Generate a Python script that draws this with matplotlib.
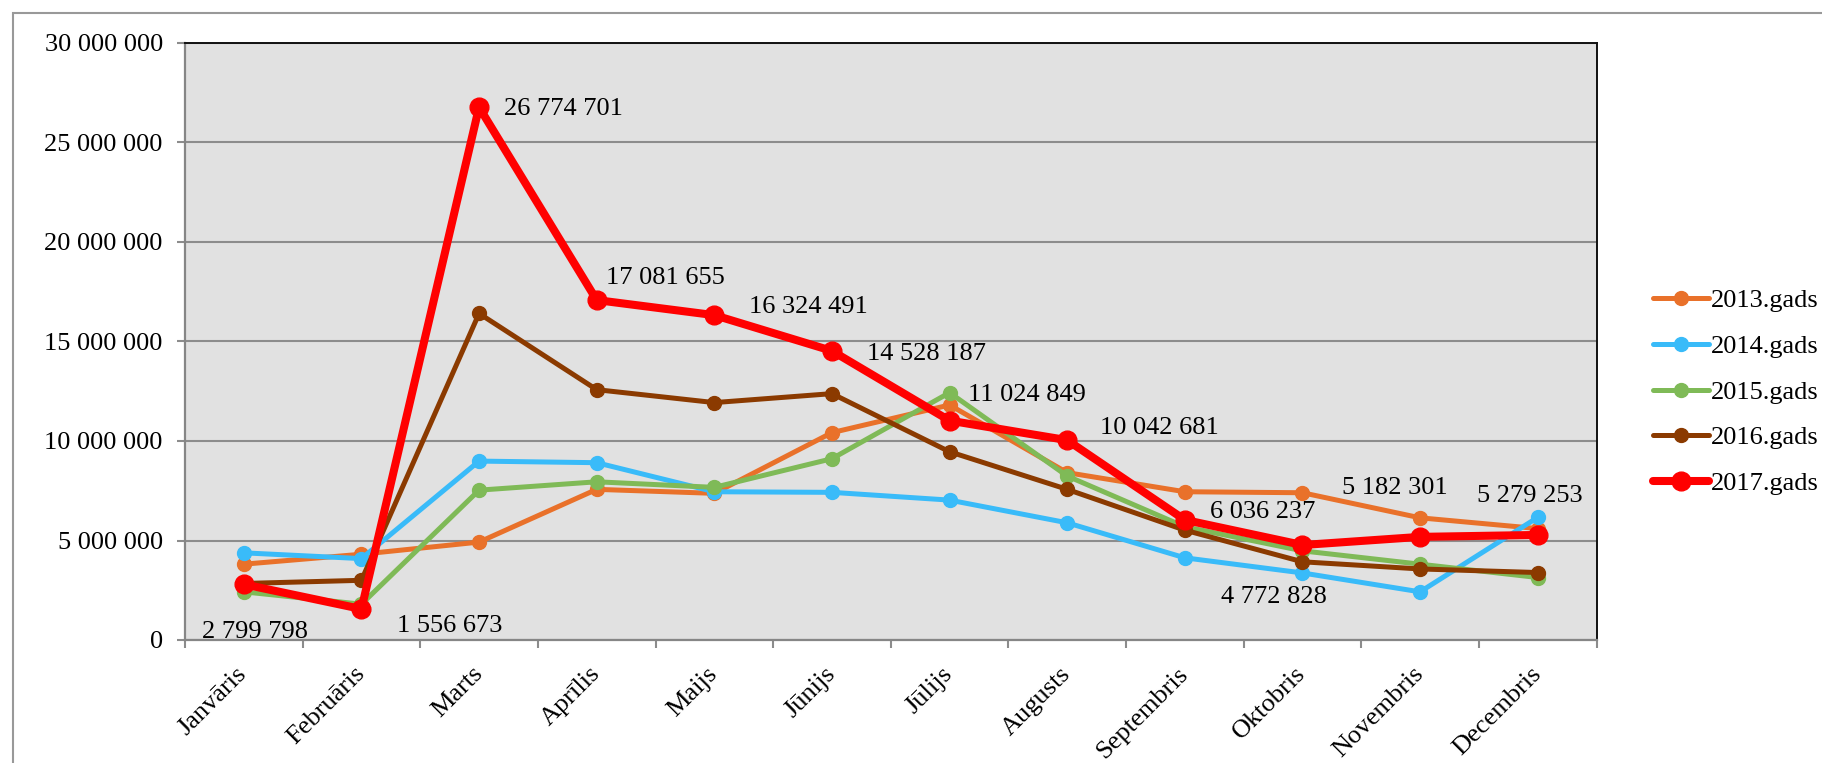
# -*- coding: utf-8 -*-
"""
plot.py
月別の推移（2013〜2017年）を折れ線グラフで表示する
"""

# モジュールのインポート
import matplotlib
matplotlib.use("Agg")
import matplotlib.pyplot as plt
from matplotlib.patches import Rectangle
from matplotlib.ticker import FuncFormatter, MultipleLocator
import numpy as np

plt.rcParams['font.family'] = ['Liberation Serif', 'DejaVu Serif']

# データ
months = ['Janvāris', 'Februāris', 'Marts', 'Aprīlis', 'Maijs', 'Jūnijs',
          'Jūlijs', 'Augusts', 'Septembris', 'Oktobris', 'Novembris', 'Decembris']
v2013 = [3810000, 4310000, 4920000, 7570000, 7370000, 10420000,
         11810000, 8410000, 7450000, 7400000, 6140000, 5600000]
v2014 = [4380000, 4090000, 8990000, 8910000, 7450000, 7420000,
         7030000, 5890000, 4130000, 3370000, 2420000, 6160000]
v2015 = [2420000, 1800000, 7530000, 7950000, 7670000, 9110000,
         12430000, 8240000, 5690000, 4480000, 3810000, 3140000]
v2016 = [2840000, 3000000, 16410000, 12580000, 11930000, 12380000,
         9460000, 7570000, 5520000, 3930000, 3570000, 3390000]
v2017 = [2799798, 1556673, 26774701, 17081655, 16324491, 14528187,
         11024849, 10042681, 6036237, 4772828, 5182301, 5279253]
series_names = ['2013.gads', '2014.gads', '2015.gads', '2016.gads', '2017.gads']

# 色・線の太さ
colors = ['#E9712A', '#39BBF9', '#7FBA57', '#8B3A00', '#FF0000']
lws = [3.6, 3.6, 3.6, 3.6, 5.8]
mss = [10.0, 10.0, 10.0, 10.0, 13.5]

# 2017年のラベル位置（ピクセル単位のずらし量）
lab_off = [(11, -48, 'center'), (36, -17, 'left'), (25, -2, 'left'),
           (9, 22, 'left'), (35, 8, 'left'), (35, -3, 'left'),
           (18, 26, 'left'), (33, 12, 'left'), (25, 8, 'left'),
           (-29, -52, 'center'), (-25, 49, 'center'), (-8, 39, 'center')]

def fmt_num(v, pos=None):
    """千の位をスペースで区切る"""
    return format(int(round(v)), ',').replace(',', ' ')

# グラフ描画
fig = plt.figure(figsize=(18.22, 7.63), dpi=100)
ax = fig.add_axes([185 / 1822, 1 - 640 / 763, 1411.5 / 1822, 597 / 763])
ax.set_facecolor('#E1E1E1')

x = np.arange(len(months))
for vals, name, c, lw, ms in zip([v2013, v2014, v2015, v2016, v2017],
                                 series_names, colors, lws, mss):
    ax.plot(x, vals, color=c, lw=lw, marker='o', ms=ms, label=name,
            solid_capstyle='round', clip_on=False)

# データラベル（2017年）
for i, v in enumerate(v2017):
    dx, dy, ha = lab_off[i]
    ax.annotate(fmt_num(v), (x[i], v), xytext=(dx, dy), textcoords='offset pixels',
                ha=ha, va='center', fontsize=19, color='black')

# 軸の設定
ax.set_xlim(-0.5, len(months) - 0.5)
ax.set_ylim(0, 30000000)
ax.yaxis.set_major_locator(MultipleLocator(5000000))
ax.yaxis.set_major_formatter(FuncFormatter(fmt_num))
ax.yaxis.grid(True, color='#8C8C8C', lw=1.5)
ax.set_axisbelow(True)

ax.set_xticks(x)
ax.set_xticklabels(months, rotation=45, ha='right', va='center',
                   rotation_mode='anchor', fontsize=19)
ax.set_xticks(np.arange(-0.5, len(months)), minor=True)
ax.tick_params(axis='x', which='major', length=0, pad=22)
ax.tick_params(axis='x', which='minor', length=6, width=1.5, color='#8C8C8C')
ax.tick_params(axis='y', length=6, width=1.5, color='#8C8C8C', labelsize=19, pad=10)

for s in ['left', 'bottom']:
    ax.spines[s].set_color('#868686')
    ax.spines[s].set_linewidth(1.6)
for s in ['top', 'right']:
    ax.spines[s].set_color('#111111')
    ax.spines[s].set_linewidth(1.4)

# 凡例
fig.legend(loc='center left', bbox_to_anchor=(1640 / 1822, 1 - 392 / 763),
           bbox_transform=fig.transFigure, frameon=False, fontsize=19,
           borderpad=0, handlelength=2.1, handletextpad=0.1, labelspacing=0.84)

# 外枠
fig.patches.append(Rectangle((12.5 / 1822, -0.1), 2, 1.1 - 12.7 / 763,
                             transform=fig.transFigure, fill=False,
                             edgecolor='#999999', lw=1.5))

fig.savefig('out.png', dpi=100)
